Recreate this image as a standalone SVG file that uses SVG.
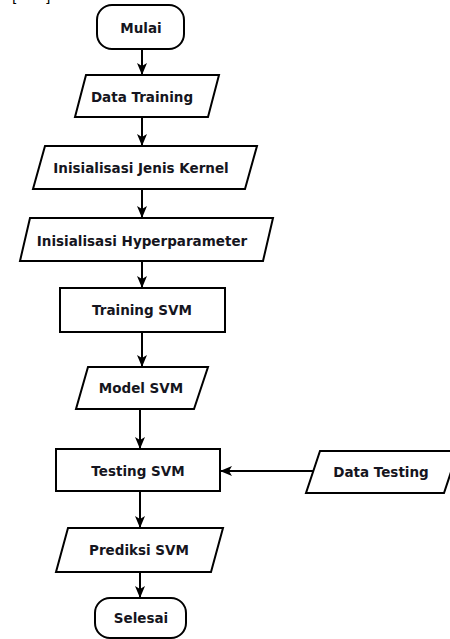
<svg xmlns="http://www.w3.org/2000/svg" width="450" height="639" viewBox="0 0 450 639">
  <defs>
    <marker id="arrow" markerWidth="12" markerHeight="10" refX="11" refY="5" orient="auto" markerUnits="userSpaceOnUse">
      <path d="M0,0 L12,5 L0,10 L3,5 Z" fill="#000"/>
    </marker>
    <style>
      .shape { fill: #fff; stroke: #000; stroke-width: 2; }
      .label { font-family: "DejaVu Sans", Verdana, sans-serif; font-weight: bold; font-size: 13.5px; fill: #151520; text-anchor: middle; }
      .edge { fill: none; stroke: #000; stroke-width: 2; marker-end: url(#arrow); }
      .clip { font-family: "DejaVu Sans", sans-serif; font-size: 14px; fill: #000; }
    </style>
  </defs>
  <rect width="450" height="639" fill="#fff"/>

  <!-- trimmed citation brackets at the top edge -->
  <text class="clip" x="12" y="2">[</text>
  <text class="clip" x="45" y="2">]</text>

  <g id="connectors">
    <line class="edge" x1="142" y1="49" x2="142" y2="74"/>
    <line class="edge" x1="142" y1="117" x2="142" y2="145"/>
    <line class="edge" x1="142" y1="189" x2="142" y2="217"/>
    <line class="edge" x1="142" y1="261" x2="142" y2="287"/>
    <line class="edge" x1="142" y1="332" x2="142" y2="366"/>
    <line class="edge" x1="140" y1="409" x2="140" y2="448"/>
    <line class="edge" x1="313" y1="471" x2="221" y2="471"/>
    <line class="edge" x1="140" y1="491" x2="140" y2="527"/>
    <line class="edge" x1="140" y1="572" x2="140" y2="597"/>
  </g>

  <g id="mulai">
    <rect class="shape" x="97" y="5" width="87" height="44" rx="15" ry="15"/>
    <text class="label" x="141" y="33">Mulai</text>
  </g>

  <g id="data-training">
    <polygon class="shape" points="86,75 219,75 208,117 75,117"/>
    <text class="label" x="142" y="102">Data Training</text>
  </g>

  <g id="jenis-kernel">
    <polygon class="shape" points="45,146 257,146 245,189 33,189"/>
    <text class="label" x="141" y="173">Inisialisasi Jenis Kernel</text>
  </g>

  <g id="hyperparameter">
    <polygon class="shape" points="30,218 273,218 263,261 20,261"/>
    <text class="label" x="142" y="246">Inisialisasi Hyperparameter</text>
  </g>

  <g id="training-svm">
    <rect class="shape" x="60" y="288" width="165" height="44"/>
    <text class="label" x="142" y="315">Training SVM</text>
  </g>

  <g id="model-svm">
    <polygon class="shape" points="88,367 208,367 194,409 76,409"/>
    <text class="label" x="141" y="393">Model SVM</text>
  </g>

  <g id="testing-svm">
    <rect class="shape" x="56" y="449" width="164" height="42"/>
    <text class="label" x="138" y="476">Testing SVM</text>
  </g>

  <g id="data-testing">
    <polygon class="shape" points="320,451 458,451 444,493 306,493"/>
    <text class="label" x="381" y="477">Data Testing</text>
  </g>

  <g id="prediksi-svm">
    <polygon class="shape" points="68,528 223,528 211,572 56,572"/>
    <text class="label" x="139" y="555">Prediksi SVM</text>
  </g>

  <g id="selesai">
    <rect class="shape" x="95" y="598" width="91" height="40" rx="15" ry="15"/>
    <text class="label" x="141" y="623">Selesai</text>
  </g>
</svg>
